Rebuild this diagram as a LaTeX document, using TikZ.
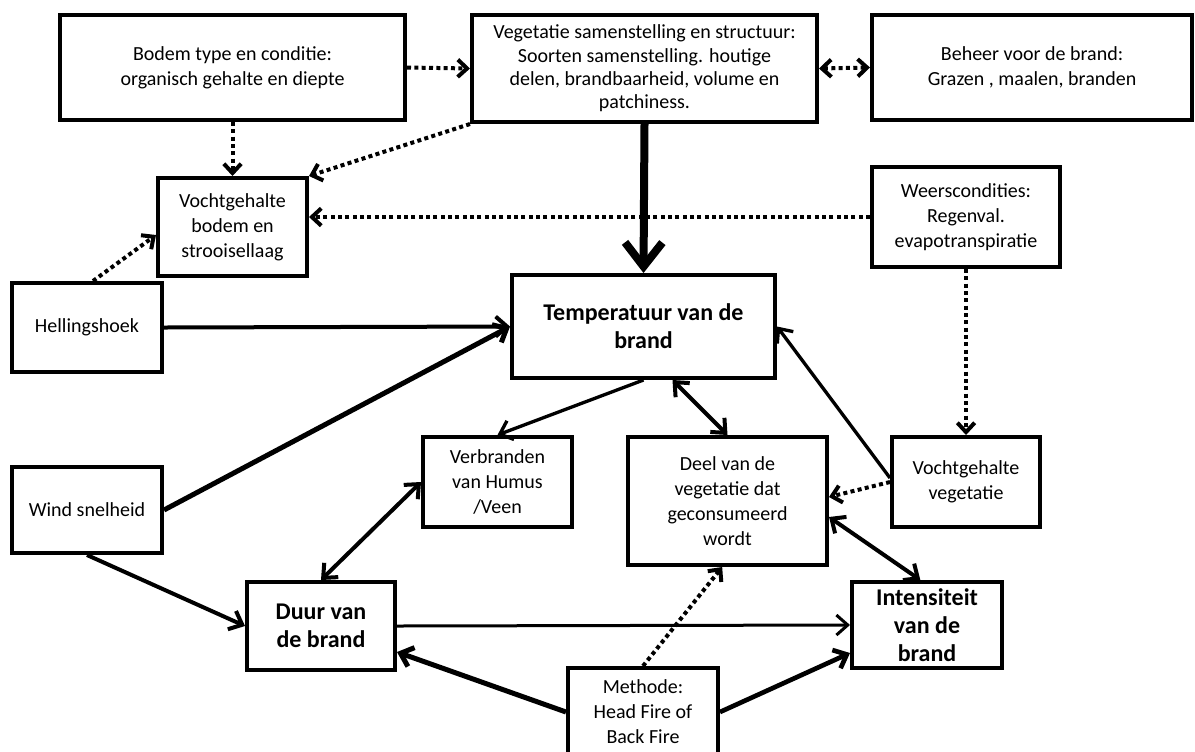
\documentclass[tikz,border=0pt]{standalone}
\usepackage{fontspec}
\setmainfont{Carlito}
\usetikzlibrary{arrows.meta,calc}
\begin{document}
\begin{tikzpicture}[x=0.75pt,y=-0.75pt,
  box/.style={draw=black, line width=3pt, fill=white, align=center, inner sep=0pt,
    font=\fontsize{15}{18.75}\selectfont},
  bigbox/.style={box, font=\fontsize{18}{21}\selectfont\bfseries},
  sz/.style 2 args={minimum width=#1*0.75pt, minimum height=#2*0.75pt},
  arr/.style={-{Straight Barb[length=8.5pt,width=15pt]}, line width=3pt},
  dbl/.style={{Straight Barb[length=8.5pt,width=15pt]}-{Straight Barb[length=8.5pt,width=15pt]}, line width=3pt},
  bigarr/.style={-{Straight Barb[length=18pt,width=28pt]}, line width=6pt},
  dotline/.style={line width=3pt, dash pattern=on 3pt off 2.5pt},
  dotarr/.style={dotline, -{Straight Barb[length=7pt,width=13pt]}},
  dotdbl/.style={dotline, {Straight Barb[length=7pt,width=13pt]}-{Straight Barb[length=7pt,width=13pt]}}
]
\useasboundingbox[fill=white] (0,0) rectangle (1195,751);

\node[box, sz={345}{105}] (bodem) at (232.5,67.5) {Bodem type en conditie:\\organisch gehalte en diepte};
\node[box, sz={345}{107}, font=\fontsize{15}{17.5}\selectfont] (veg) at (644.5,68.5) {Vegetatie samenstelling en structuur:\\Soorten samenstelling. houtige\\delen, brandbaarheid, volume en\\patchiness.};
\node[box, sz={320}{105}] (beheer) at (1032,67.5) {Beheer voor de brand:\\Grazen , maalen, branden};
\node[box, sz={149}{98}] (vbodem) at (232.5,227) {Vochtgehalte\\bodem en\\strooisellaag};
\node[box, sz={188}{100}] (weer) at (966,217) {Weerscondities:\\Regenval.\\evapotranspiratie};
\node[box, sz={150}{89}] (helling) at (87,327.5) {Hellingshoek};
\node[bigbox, sz={263}{103}] (temp) at (643.5,326.5) {Temperatuur van de\\brand};
\node[box, sz={149}{90}] (verbr) at (497.5,482) {Verbranden\\van Humus\\/Veen};
\node[box, sz={199}{128}] (deel) at (727.5,501) {Deel van de\\vegetatie dat\\geconsumeerd\\wordt};
\node[box, sz={148}{90}] (vveg) at (966,482) {Vochtgehalte\\vegetatie};
\node[box, sz={150}{86}] (wind) at (87,510) {Wind snelheid};
\node[bigbox, sz={148}{88}] (duur) at (321,626) {Duur van\\de brand};
\node[bigbox, sz={150}{86}] (int) at (927,625) {Intensiteit\\van de\\brand};
\node[box, sz={150}{88}] (meth) at (643,712) {Methode:\\Head Fire of\\Back Fire};

\draw[dotarr] (bodem.east) -- (veg.west);
\draw[dotdbl] (veg.east) -- (beheer.west);
\draw[dotarr] (bodem.south) -- (vbodem.north);
\draw[dotarr] (veg.south west) -- (vbodem.north east);
\draw[dotarr] (weer.west) -- (weer.west -| vbodem.east);
\draw[dotarr] ([xshift=4.5pt]helling.north) -- ([yshift=-6pt]vbodem.west);
\draw[bigarr] (veg.south) -- (temp.north);
\draw[arr] (helling.east) -- (temp.west);
\draw[arr, line width=3.75pt] (wind.east) -- (temp.west);
\draw[arr] (wind.south) -- (duur.west);
\draw[arr, line width=2.5pt] (temp.south) -- (verbr.north);
\draw[dbl] ([xshift=21.75pt]temp.south) -- (deel.north);
\draw[dbl] (verbr.west) -- (duur.north);
\draw[dotarr] (weer.south) -- (vveg.north);
\draw[dotarr] (vveg.west) -- ([yshift=3pt]deel.east);
\draw[arr, line width=2.5pt] ([yshift=3pt]vveg.west) -- (temp.east);
\draw[dbl] ([yshift=-12pt]deel.east) -- ([xshift=-5pt]int.north);
\draw[arr, line width=2.25pt] (duur.east) -- (int.west);
\draw[arr, line width=3.75pt] (meth.west) -- ([yshift=-19.5pt]duur.east);
\draw[arr, line width=3.5pt] (meth.east) -- ([yshift=-21pt]int.west);
\draw[dotarr] (meth.north) -- ([xshift=-4pt]deel.south);
\end{tikzpicture}
\end{document}
